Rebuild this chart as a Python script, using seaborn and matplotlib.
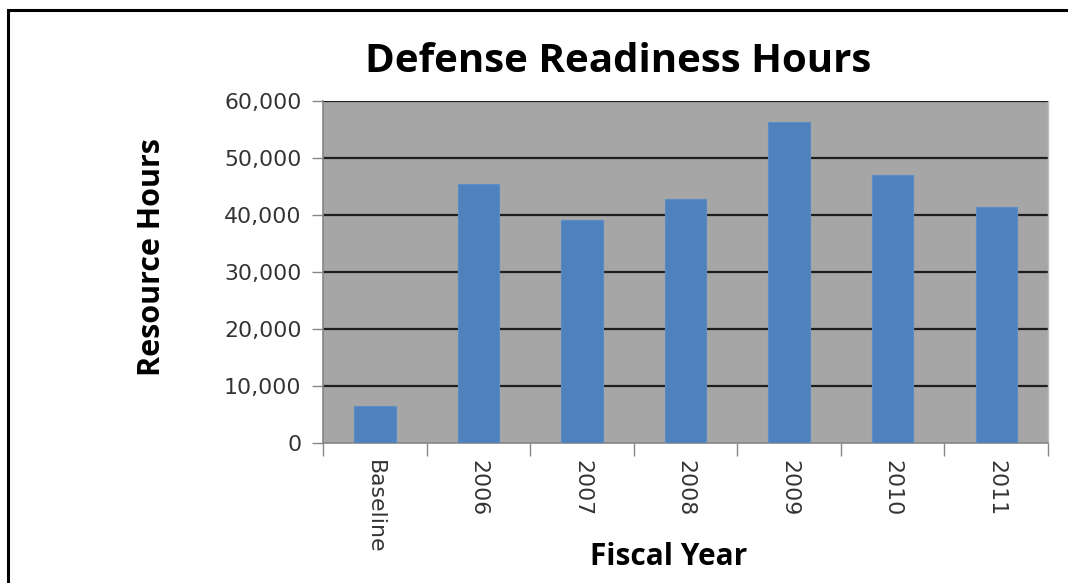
import matplotlib
matplotlib.use("Agg")
import matplotlib.pyplot as plt
import seaborn as sns
import pandas as pd
from matplotlib.ticker import FuncFormatter, FixedLocator
from matplotlib.patches import Rectangle

categories = ["Baseline", "2006", "2007", "2008", "2009", "2010", "2011"]
hours = [6500, 45400, 39100, 42800, 56300, 47000, 41400]
title = "Defense Readiness Hours"
xlabel = "Fiscal Year"
ylabel = "Resource Hours"

sns.set_theme(style="white")
plt.rcParams["font.family"] = ["DejaVu Sans"]

df = pd.DataFrame({"cat": categories, "hours": hours})

fig = plt.figure(figsize=(10.68, 5.83), dpi=100)
ax = fig.add_axes([323/1068, 140/583, 725/1068, 342/583])
ax.set_facecolor("#A6A6A6")

sns.barplot(data=df, x="cat", y="hours", color="#4F81BD", saturation=1,
            width=0.4, edgecolor="#5B8CC8", linewidth=0.8, ax=ax, zorder=3)

ax.set_ylim(0, 60000)
ax.set_xlim(-0.5, len(categories) - 0.5)
ax.set_yticks(range(0, 60001, 10000))
ax.yaxis.set_major_formatter(FuncFormatter(lambda v, p: f"{int(v):,}"))
for y in range(10000, 60001, 10000):
    ax.axhline(y, color="#1E1E1E", lw=1.6, zorder=2)

ax.set_xlabel("")
ax.set_ylabel("")
ax.tick_params(axis="y", which="major", left=True, length=8, width=1, color="#868686",
               pad=7.5, labelsize=15.8, labelcolor="#333333")
ax.tick_params(axis="x", which="major", bottom=False, length=0, pad=12,
               labelsize=15.8, labelcolor="#333333")
ax.set_xticks(ax.get_xticks())
ax.set_xticklabels(categories, rotation=270, ha="center", va="top")
ax.xaxis.set_minor_locator(FixedLocator([i - 0.5 for i in range(len(categories) + 1)]))
ax.tick_params(axis="x", which="minor", bottom=True, length=9, width=1, color="#868686")

for s in ["left", "bottom"]:
    ax.spines[s].set_color("#868686")
    ax.spines[s].set_linewidth(1.2)
ax.spines["right"].set_color("#BFBFBF")
ax.spines["right"].set_linewidth(1.0)
ax.spines["top"].set_visible(False)

fig.text(618/1068, 1 - 62/583, title, ha="center", va="center",
         fontsize=29, fontweight="bold", family=["Open Sans", "DejaVu Sans"], color="black")
fig.text(669/1068, 1 - 557/583, xlabel, ha="center", va="center",
         fontsize=21.5, fontweight="bold", family=["Open Sans", "DejaVu Sans"], color="black")
fig.text(152/1068, 1 - 257/583, ylabel, ha="center", va="center", rotation=90,
         fontsize=22, fontweight="bold", family=["Open Sans", "DejaVu Sans"], color="black")

fig.patches.append(Rectangle((8/1068, -0.2), 1.2, 1 - 9.5/583 + 0.2, transform=fig.transFigure,
                             fill=False, edgecolor="black", linewidth=2.2, figure=fig))

fig.savefig("out.png", dpi=100)
